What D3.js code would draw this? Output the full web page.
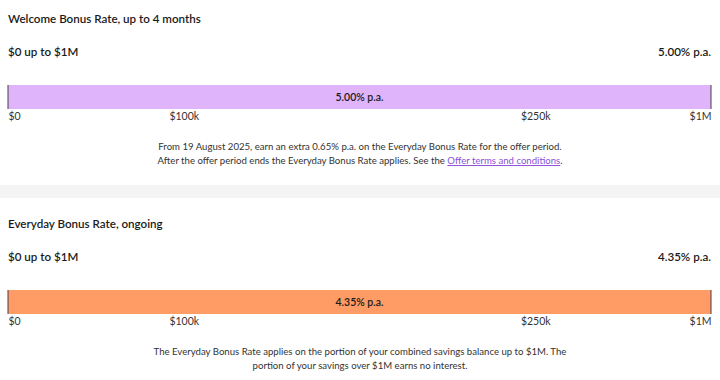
<!DOCTYPE html>
<html>
<head>
<meta charset="utf-8">
<script src="https://cdn.jsdelivr.net/npm/d3@7"></script>
<style>
  body { margin: 0; background: #fff; }
  svg { display: block; font-family: Lato, "Noto Sans", sans-serif; }
</style>
</head>
<body>
<div id="rate-chart"></div>
<script>
const sectionTitles = ["Welcome Bonus Rate, up to 4 months", "Everyday Bonus Rate, ongoing"];
const tierLabels = ["$0 up to $1M", "$0 up to $1M"];
const rates = [5.00, 4.35];
const barColors = ["#dfb4fb", "#ff9c66"];
const tickValues = [0, 100000, 250000, 1000000];
const tickLabels = ["$0", "$100k", "$250k", "$1M"];
const notes = [
    [["From 19 August 2025, earn an extra 0.65% p.a. on the Everyday Bonus Rate for the offer period."],
     ["After the offer period ends the Everyday Bonus Rate applies. See the ", "Offer terms and conditions", "."]],
    [["The Everyday Bonus Rate applies on the portion of your combined savings balance up to $1M. The"],
     ["portion of your savings over $1M earns no interest."]]
];

const W = 720, H = 380;
const left = 8, right = 711;
const sectionTop = [0, 205];

const svg = d3.select("#rate-chart")
    .append("svg")
    .attr("width", W)
    .attr("height", H);

// balance axis is piecewise, ticks sit at 0, 1/4, 3/4 and the full width
const x = d3.scaleLinear()
    .domain(tickValues)
    .range([left, left + (right - left) * 0.25, left + (right - left) * 0.75, right]);

// grey divider between the two sections
svg.append("rect")
    .attr("x", 0)
    .attr("y", 185)
    .attr("width", W)
    .attr("height", 13)
    .attr("fill", "#f4f4f4");

const fmt = d => d3.format(".2f")(d) + "% p.a.";

sectionTitles.forEach((title, i) => {
    const g = svg.append("g").attr("transform", `translate(0,${sectionTop[i]})`);

    g.append("text")
        .attr("x", left)
        .attr("y", 23)
        .attr("font-size", "11.6px")
        .attr("font-weight", 600)
        .attr("fill", "#1a1a1a")
        .text(title);

    g.append("text")
        .attr("x", left)
        .attr("y", 56)
        .attr("font-size", "11.6px")
        .attr("font-weight", 600)
        .attr("fill", "#1a1a1a")
        .text(tierLabels[i]);

    g.append("text")
        .attr("x", right)
        .attr("y", 56)
        .attr("text-anchor", "end")
        .attr("font-size", "11.6px")
        .attr("font-weight", 600)
        .attr("fill", "#1a1a1a")
        .text(fmt(rates[i]));

    const barY = 85, barH = 24;
    g.append("rect")
        .attr("x", x(tickValues[0]))
        .attr("y", barY)
        .attr("width", x(tickValues[tickValues.length - 1]) - x(tickValues[0]))
        .attr("height", barH)
        .attr("fill", barColors[i]);

    // thin dark edges at both ends of the bar
    g.selectAll(".edge")
        .data([tickValues[0], tickValues[tickValues.length - 1]])
        .enter()
        .append("line")
        .attr("x1", d => x(d))
        .attr("x2", d => x(d))
        .attr("y1", barY)
        .attr("y2", barY + barH)
        .attr("stroke", "#4a3a4a")
        .attr("stroke-width", 1);

    g.append("text")
        .attr("x", (x(tickValues[0]) + x(tickValues[tickValues.length - 1])) / 2)
        .attr("y", barY + barH / 2 + 4)
        .attr("text-anchor", "middle")
        .attr("font-size", "10.5px")
        .attr("font-weight", 600)
        .attr("fill", "#1a1a1a")
        .text(fmt(rates[i]));

    const axis = d3.axisBottom(x)
        .tickValues(tickValues)
        .tickFormat((d, j) => tickLabels[j])
        .tickSize(0)
        .tickPadding(0);

    const ax = g.append("g")
        .attr("class", "x-axis")
        .attr("transform", `translate(0,${barY + barH + 4})`)
        .call(axis);
    ax.select(".domain").remove();
    ax.selectAll("text")
        .attr("font-size", "10.5px")
        .attr("fill", "#333")
        .attr("font-family", "Lato, sans-serif")
        .attr("text-anchor", (d, j) => j === 0 ? "start" : j === tickValues.length - 1 ? "end" : "middle");

    const nt = g.append("g").attr("class", "note");
    notes[i].forEach((line, k) => {
        const t = nt.append("text")
            .attr("x", W / 2)
            .attr("y", 150 + k * 14)
            .attr("text-anchor", "middle")
            .attr("font-size", "9.6px")
            .attr("fill", "#333");
        line.forEach((part, p) => {
            const ts = t.append("tspan").text(part);
            if (p === 1) {
                ts.attr("fill", "#8c4fd9").attr("text-decoration", "underline");
            }
        });
    });
});
</script>
</body>
</html>
